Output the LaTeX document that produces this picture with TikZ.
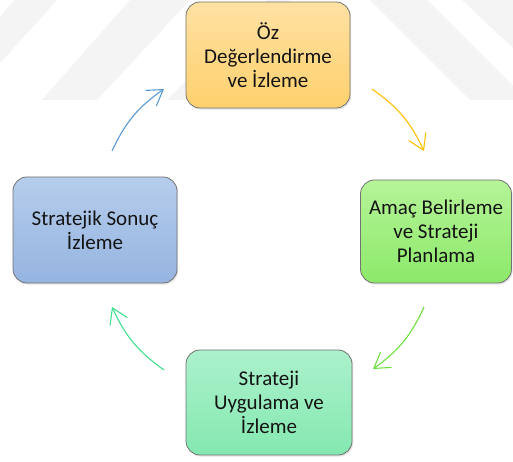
\documentclass[tikz,border=0pt]{standalone}
\usepackage{fontspec}
\setmainfont{Carlito}
\usetikzlibrary{arrows.meta,shadows}
\definecolor{wmgray}{HTML}{F4F4F4}
\definecolor{arYellow}{HTML}{FFC000}
\definecolor{arGreen}{HTML}{6FE03C}
\definecolor{arMint}{HTML}{3FE08E}
\definecolor{arBlue}{HTML}{5B9BD5}
\tikzset{
  boxstyle/.style={rounded corners=14pt, draw=black!55, line width=0.8pt,
    align=center, inner sep=0pt,
    font=\fontsize{21}{24}\selectfont, text=black!92,
    drop shadow={opacity=0.22, shadow xshift=1.2pt, shadow yshift=-1.6pt}},
  cyclearrow/.style={line width=1.1pt, -{Straight Barb[length=15pt,width=19pt,line width=1.1pt]}, bend left=15},
  watermark/.style={fill=wmgray, draw=none}
}
\begin{document}
\begin{tikzpicture}[x=1pt,y=1pt]
\useasboundingbox (0,0) rectangle (513,462);
\fill[white] (0,0) rectangle (513,462);
% faint watermark bands
\fill[watermark] (15,462) -- (57,462) -- (0,399) -- (0,445) -- cycle;
\fill[watermark] (130,462) -- (190,462) -- (97,362) -- (42,362) -- cycle;
\fill[watermark] (167,362) -- (190,362) -- (290,462) -- (267,462) -- cycle;
\fill[watermark] (370,462) -- (427,462) -- (513,376) -- (513,362) -- (470,362) -- cycle;
\fill[watermark] (462,462) -- (513,462) -- (513,414) -- cycle;
% boxes
\node[boxstyle, minimum width=164pt, minimum height=106pt, top color={rgb,255:red,255;green,225;blue,163}, bottom color={rgb,255:red,255;green,209;blue,110}]
  (oz) at (268,407) {Öz\\Değerlendirme\\ve İzleme};
\node[boxstyle, minimum width=151pt, minimum height=103pt, top color={rgb,255:red,182;green,244;blue,152}, bottom color={rgb,255:red,140;green,233;blue,106}]
  (amac) at (436,230.5) {Amaç Belirleme\\ve Strateji\\Planlama};
\node[boxstyle, minimum width=166pt, minimum height=105pt, top color={rgb,255:red,172;green,241;blue,204}, bottom color={rgb,255:red,132;green,232;blue,176}]
  (uyg) at (269,59.5) {Strateji\\Uygulama ve\\İzleme};
\node[boxstyle, minimum width=164pt, minimum height=106pt, top color={rgb,255:red,182;green,205;blue,236}, bottom color={rgb,255:red,149;green,180;blue,224}]
  (sonuc) at (95,232) {Stratejik Sonuç\\İzleme};
% arrow end points
\coordinate (y1) at (372,373);
\coordinate (y2) at (424,311);
\coordinate (g1) at (424,155);
\coordinate (g2) at (373,93);
\coordinate (m1) at (164,92);
\coordinate (m2) at (112,155);
\coordinate (b1) at (112,311);
\coordinate (b2) at (164,373);
\draw[cyclearrow, arYellow] (y1) to (y2);
\draw[cyclearrow, arGreen] (g1) to (g2);
\draw[cyclearrow, arMint] (m1) to (m2);
\draw[cyclearrow, arBlue] (b1) to (b2);
\end{tikzpicture}
\end{document}
